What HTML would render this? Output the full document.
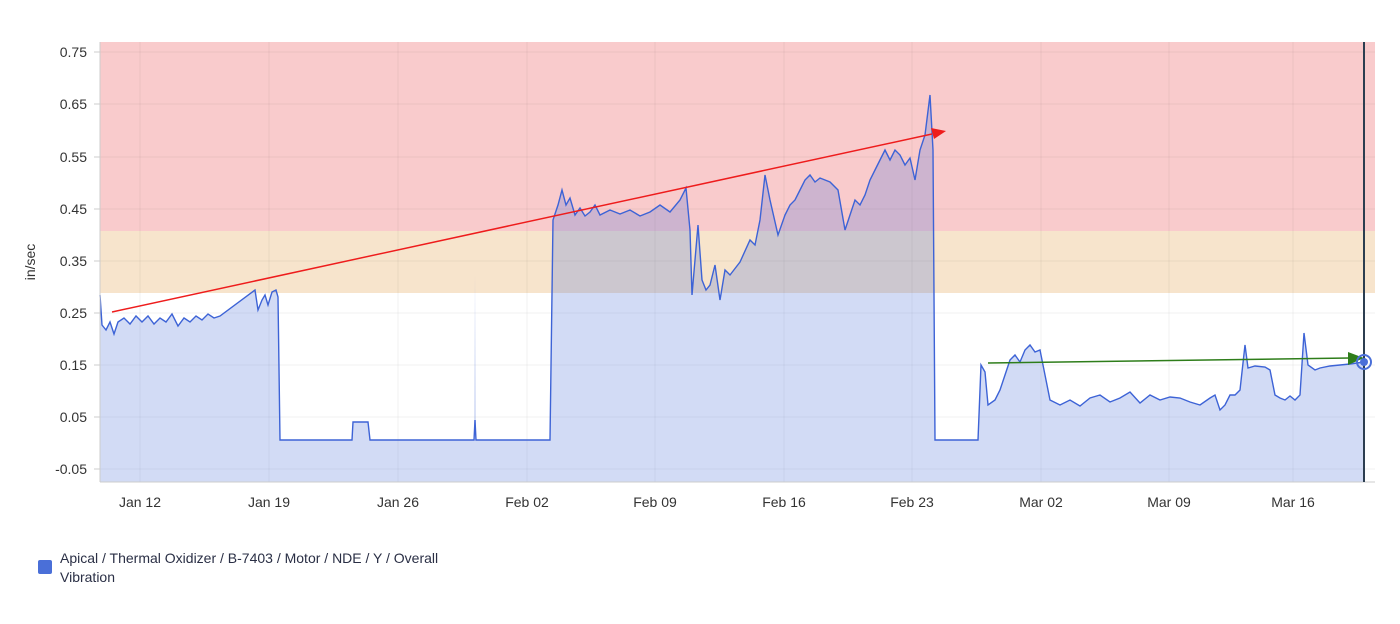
<!DOCTYPE html>
<html><head><meta charset="utf-8"><style>
body{margin:0;background:#fff;font-family:"Liberation Sans",sans-serif;}
</style></head><body>
<svg width="1400" height="619" xmlns="http://www.w3.org/2000/svg" font-family="Liberation Sans, sans-serif">
<rect x="100" y="42" width="1275" height="189" fill="#f9cbcc"/>
<rect x="100" y="231" width="1275" height="62" fill="#f7e4cc"/>
<g stroke="#000" stroke-opacity="0.05">
<line x1="100" x2="1375" y1="52" y2="52"/><line x1="100" x2="1375" y1="104" y2="104"/><line x1="100" x2="1375" y1="157" y2="157"/><line x1="100" x2="1375" y1="209" y2="209"/><line x1="100" x2="1375" y1="261" y2="261"/><line x1="100" x2="1375" y1="313" y2="313"/><line x1="100" x2="1375" y1="365" y2="365"/><line x1="100" x2="1375" y1="417" y2="417"/><line x1="100" x2="1375" y1="469" y2="469"/>
<line x1="140" x2="140" y1="42" y2="482"/><line x1="269" x2="269" y1="42" y2="482"/><line x1="398" x2="398" y1="42" y2="482"/><line x1="527" x2="527" y1="42" y2="482"/><line x1="655" x2="655" y1="42" y2="482"/><line x1="784" x2="784" y1="42" y2="482"/><line x1="912" x2="912" y1="42" y2="482"/><line x1="1041" x2="1041" y1="42" y2="482"/><line x1="1169" x2="1169" y1="42" y2="482"/><line x1="1293" x2="1293" y1="42" y2="482"/>
</g>
<polygon fill="#4a6fd8" fill-opacity="0.25" points="100,482 100,295 102,325 106,330 110,322 114,334 118,322 124,318 130,324 136,316 142,322 148,316 154,324 160,318 166,322 172,314 178,326 184,318 190,322 196,316 202,320 208,314 214,318 220,316 255,290 258,310 262,300 265,295 268,305 272,292 276,290 278,297 280,440 352,440 353,422 368,422 370,440 474,440 475,275 476,440 550,440 553,220 558,205 562,190 566,205 570,198 575,215 580,208 585,216 590,212 595,205 600,215 610,210 620,214 630,210 640,216 650,212 660,205 670,212 680,200 686,188 690,230 692,295 695,260 698,225 702,280 706,290 710,285 715,265 720,300 725,270 730,275 740,262 750,240 755,245 760,220 765,175 770,200 778,235 785,215 790,205 795,200 800,190 805,180 810,175 815,182 820,178 830,182 838,190 845,230 850,215 855,200 860,205 865,195 870,180 875,170 880,160 885,150 890,160 895,150 900,155 905,165 910,158 915,180 920,150 925,135 930,95 933,150 935,440 978,440 981,365 985,372 988,405 995,400 1000,390 1005,375 1010,360 1015,355 1020,362 1025,350 1030,345 1035,352 1040,350 1045,375 1050,400 1060,405 1070,400 1080,406 1090,398 1100,395 1110,402 1120,398 1130,392 1140,403 1150,395 1160,400 1170,397 1180,398 1190,402 1200,405 1210,398 1215,395 1220,410 1225,405 1230,395 1235,395 1240,390 1245,345 1248,368 1255,366 1265,367 1270,370 1275,395 1280,398 1285,400 1290,396 1295,400 1300,395 1304,333 1308,365 1315,370 1320,368 1330,366 1340,365 1350,364 1364,362 1364,482"/>
<polyline fill="none" stroke="#3d63d6" stroke-width="1.4" points="100,295 102,325 106,330 110,322 114,334 118,322 124,318 130,324 136,316 142,322 148,316 154,324 160,318 166,322 172,314 178,326 184,318 190,322 196,316 202,320 208,314 214,318 220,316 255,290 258,310 262,300 265,295 268,305 272,292 276,290 278,297 280,440 352,440 353,422 368,422 370,440 474,440 475,420 476,440 550,440 553,220 558,205 562,190 566,205 570,198 575,215 580,208 585,216 590,212 595,205 600,215 610,210 620,214 630,210 640,216 650,212 660,205 670,212 680,200 686,188 690,230 692,295 695,260 698,225 702,280 706,290 710,285 715,265 720,300 725,270 730,275 740,262 750,240 755,245 760,220 765,175 770,200 778,235 785,215 790,205 795,200 800,190 805,180 810,175 815,182 820,178 830,182 838,190 845,230 850,215 855,200 860,205 865,195 870,180 875,170 880,160 885,150 890,160 895,150 900,155 905,165 910,158 915,180 920,150 925,135 930,95 933,150 935,440 978,440 981,365 985,372 988,405 995,400 1000,390 1005,375 1010,360 1015,355 1020,362 1025,350 1030,345 1035,352 1040,350 1045,375 1050,400 1060,405 1070,400 1080,406 1090,398 1100,395 1110,402 1120,398 1130,392 1140,403 1150,395 1160,400 1170,397 1180,398 1190,402 1200,405 1210,398 1215,395 1220,410 1225,405 1230,395 1235,395 1240,390 1245,345 1248,368 1255,366 1265,367 1270,370 1275,395 1280,398 1285,400 1290,396 1295,400 1300,395 1304,333 1308,365 1315,370 1320,368 1330,366 1340,365 1350,364 1364,362"/>
<line x1="100" y1="42" x2="100" y2="482" stroke="#ccc"/>
<line x1="100" y1="482" x2="1375" y2="482" stroke="#ccc"/>
<line x1="112" y1="312" x2="932" y2="134" stroke="#ee1c1c" stroke-width="1.5"/>
<polygon points="946,131 931,128 934,139" fill="#ee1c1c"/>
<line x1="988" y1="363" x2="1350" y2="358" stroke="#2e7d1a" stroke-width="1.5"/>
<polygon points="1364,358 1348,352 1348,365" fill="#2e7d1a"/>
<line x1="1364" y1="42" x2="1364" y2="482" stroke="#2c3e50" stroke-width="2"/>
<circle cx="1364" cy="362" r="7" fill="none" stroke="#4a6fd8" stroke-width="2"/>
<circle cx="1364" cy="362" r="4" fill="#4a6fd8"/>
<g font-size="14" fill="#333" text-anchor="end">
<text x="87" y="57">0.75</text><text x="87" y="109">0.65</text><text x="87" y="162">0.55</text><text x="87" y="214">0.45</text><text x="87" y="266">0.35</text><text x="87" y="318">0.25</text><text x="87" y="370">0.15</text><text x="87" y="422">0.05</text><text x="87" y="474">-0.05</text>
</g>
<g stroke="#ccc"><line x1="94" x2="100" y1="52" y2="52"/><line x1="94" x2="100" y1="104" y2="104"/><line x1="94" x2="100" y1="157" y2="157"/><line x1="94" x2="100" y1="209" y2="209"/><line x1="94" x2="100" y1="261" y2="261"/><line x1="94" x2="100" y1="313" y2="313"/><line x1="94" x2="100" y1="365" y2="365"/><line x1="94" x2="100" y1="417" y2="417"/><line x1="94" x2="100" y1="469" y2="469"/></g>
<text x="35" y="262" font-size="14" fill="#333" text-anchor="middle" transform="rotate(-90 35 262)">in/sec</text>
<g font-size="14" fill="#333" text-anchor="middle">
<text x="140" y="507">Jan 12</text><text x="269" y="507">Jan 19</text><text x="398" y="507">Jan 26</text><text x="527" y="507">Feb 02</text><text x="655" y="507">Feb 09</text><text x="784" y="507">Feb 16</text><text x="912" y="507">Feb 23</text><text x="1041" y="507">Mar 02</text><text x="1169" y="507">Mar 09</text><text x="1293" y="507">Mar 16</text>
</g>
<rect x="38" y="560" width="14" height="14" rx="2" fill="#4a6fd8"/>
<text x="60" y="563" font-size="14" fill="#2a2f45">Apical / Thermal Oxidizer / B-7403 / Motor / NDE / Y / Overall</text>
<text x="60" y="582" font-size="14" fill="#2a2f45">Vibration</text>
</svg>
</body></html>
